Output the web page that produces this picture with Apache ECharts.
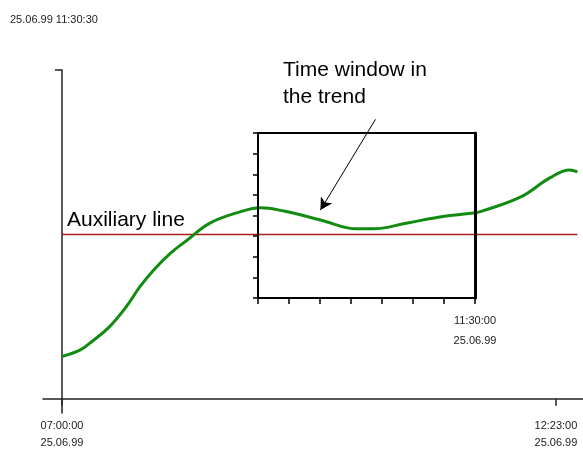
<!DOCTYPE html>
<html>
<head>
<meta charset="utf-8">
<script src="https://cdn.jsdelivr.net/npm/echarts@6/dist/echarts.min.js"></script>
<style>
  html, body { margin: 0; padding: 0; background: #fff; }
  #chart { width: 583px; height: 450px; }
</style>
</head>
<body>
<div id="chart"></div>
<script>
// trend samples: minutes after 07:00 and value
const timeMin = [0, 12, 20, 31, 42, 51, 60, 71, 82, 97, 116, 130, 145, 169, 193, 203, 226, 247, 269, 274, 300, 319, 332, 337]
const trendValue = [12.9, 14.9, 17.6, 21.9, 28.0, 34.1, 39.2, 44.3, 48.3, 53.5, 56.8, 58.1, 57.1, 54.4, 51.7, 51.7, 53.5, 55.3, 56.5, 57.0, 61.4, 67.2, 69.6, 69.0]
const auxLevel = 50
const auxTimes = [0, 337]
const mainTickTimes = [0, 323]
const windowTicks = [130, 150, 170, 190, 210, 230, 250, 270]
const windowLabelTimes = [270]
const dateText = '25.06.99'
const headerText = '25.06.99 11:30:30'
// arrow from caption to curve (time, value)
const arrowFrom = [205, 85]
const arrowTo = [169, 57.4]

const FONT = 'Liberation Sans, Arial, sans-serif'

const fmtTime = m => {
  const total = 7 * 60 + Math.round(m)
  const h = String(Math.floor(total / 60)).padStart(2, '0')
  const mm = String(total % 60).padStart(2, '0')
  return h + ':' + mm + ':00'
}

const chart = echarts.init(document.getElementById('chart'))

chart.setOption({
  animation: false,
  backgroundColor: '#fff',
  grid: [
    { left: 43, right: 0, top: 70, bottom: 37, outerBoundsMode: 'none' },
    { left: 258, right: 108, top: 133, bottom: 152, outerBoundsMode: 'none', show: true, borderColor: '#000', borderWidth: 2, z: 5 }
  ],
  xAxis: [
    {
      type: 'value', gridIndex: 0, min: -12.4, max: 340.7,
      axisLine: { onZero: true, lineStyle: { color: '#222', width: 1.5 } },
      axisTick: { customValues: mainTickTimes, length: 7, lineStyle: { color: '#222', width: 1.5 } },
      axisLabel: {
        customValues: mainTickTimes, margin: 4,
        fontFamily: FONT, fontSize: 11, lineHeight: 17, color: '#222',
        formatter: v => fmtTime(v) + '\n' + dateText
      },
      splitLine: { show: false }
    },
    {
      type: 'value', gridIndex: 1, min: 130, max: 270, z: 5,
      axisLine: { lineStyle: { color: '#000', width: 2 } },
      axisTick: { customValues: windowTicks, length: 6, lineStyle: { color: '#000', width: 1.5 } },
      axisLabel: {
        customValues: windowLabelTimes, margin: 13,
        fontFamily: FONT, fontSize: 11, lineHeight: 20, color: '#222',
        formatter: v => fmtTime(v) + '\n' + dateText
      },
      splitLine: { show: false }
    }
  ],
  yAxis: [
    {
      type: 'value', gridIndex: 0, min: -4.3, max: 100,
      axisLine: { show: true, onZero: true, lineStyle: { color: '#222', width: 1.5 } },
      axisTick: { customValues: [100], length: 7, lineStyle: { color: '#222', width: 1.5 } },
      axisLabel: { show: false },
      splitLine: { show: false }
    },
    {
      type: 'value', gridIndex: 1, min: 0, max: 8, interval: 1, z: 5,
      axisLine: { show: true, lineStyle: { color: '#000', width: 2 } },
      axisTick: { length: 5, lineStyle: { color: '#000', width: 1.5 } },
      axisLabel: { show: false },
      splitLine: { show: false }
    },
    {
      type: 'value', gridIndex: 1, position: 'right', min: 0, max: 8, z: 6,
      axisLine: { show: true, lineStyle: { color: '#000', width: 3 } },
      axisTick: { show: false },
      axisLabel: { show: false },
      splitLine: { show: false }
    }
  ],
  series: [
    {
      name: 'Auxiliary line', type: 'line', xAxisIndex: 0, yAxisIndex: 0,
      data: auxTimes.map(t => [t, auxLevel]),
      showSymbol: false, silent: true,
      lineStyle: { color: '#a81d1d', width: 1.5 }
    },
    {
      name: 'Trend', type: 'line', xAxisIndex: 0, yAxisIndex: 0,
      data: timeMin.map((t, i) => [t, trendValue[i]]),
      smooth: 0.4, showSymbol: false,
      lineStyle: { color: '#118c11', width: 3 },
      markLine: {
        silent: true,
        symbol: ['none', 'arrow'],
        symbolSize: [10, 12],
        label: { show: false },
        lineStyle: { color: '#000', width: 1, type: 'solid' },
        data: [[{ coord: arrowFrom }, { coord: arrowTo }]]
      }
    }
  ],
  graphic: [
    {
      type: 'text', left: 10, top: 14,
      style: { text: headerText, font: '11px ' + FONT, fill: '#222' }
    },
    {
      type: 'text', left: 67, top: 210,
      style: { text: 'Auxiliary line', font: '21px ' + FONT, fill: '#000' }
    },
    {
      type: 'text', left: 283, top: 57,
      style: { text: 'Time window in\nthe trend', font: '21px ' + FONT, lineHeight: 27, fill: '#000' }
    }
  ]
})
</script>
</body>
</html>
